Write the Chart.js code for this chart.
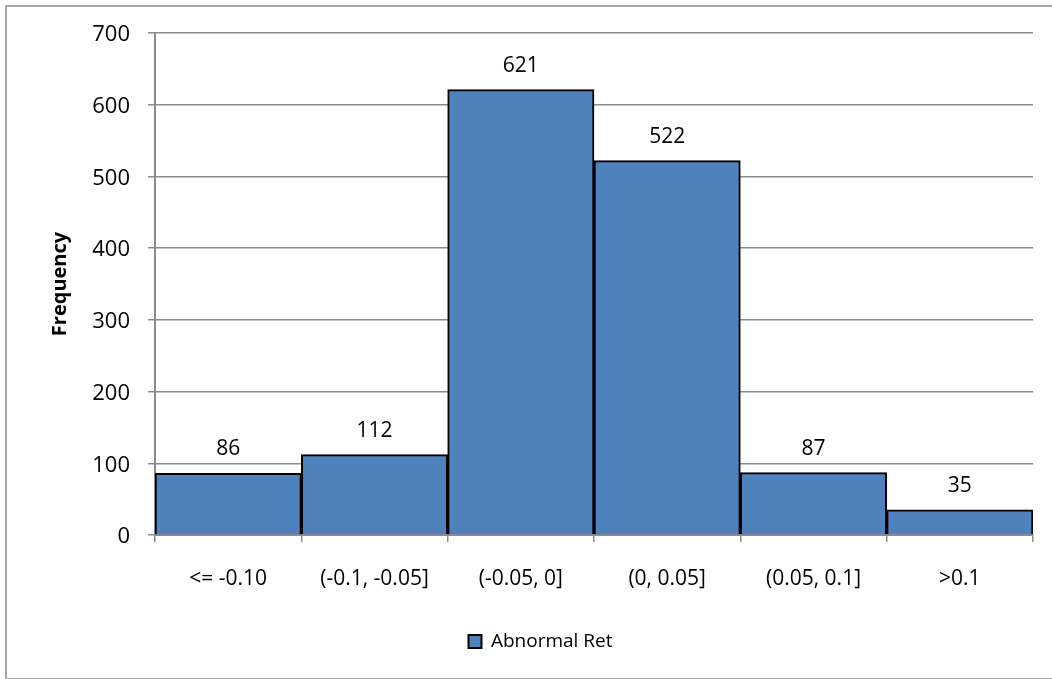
<!DOCTYPE html>
<html>
<head>
<meta charset="utf-8">
<script src="https://cdn.jsdelivr.net/npm/chart.js@4.4.1/dist/chart.umd.min.js"></script>
<style>
  html, body { margin: 0; padding: 0; background: #ffffff; }
  #wrap { position: relative; width: 1052px; height: 679px; overflow: hidden; }
  #frame { position: absolute; left: 5px; top: 5px; width: 1100px; height: 671px;
           border: 2px solid #a6a6a6; box-sizing: content-box; pointer-events: none; }
  canvas { position: absolute; left: 0; top: 0; }
</style>
</head>
<body>
<div id="wrap">
  <canvas id="chart" width="1052" height="679"></canvas>
  <div id="frame"></div>
</div>
<script>
// Return bins and how many observations fall in each
const categories = ['<= -0.10', '(-0.1, -0.05]', '(-0.05, 0]', '(0, 0.05]', '(0.05, 0.1]', '>0.1'];
const frequencies = [86, 112, 621, 522, 87, 35];
const seriesName = 'Abnormal Ret';
const yTicks = [0, 100, 200, 300, 400, 500, 600, 700];

const FONT = "'Open Sans', 'Noto Sans', sans-serif";
const GRID = '#8c8c8c';

// Writes each bar's count just above it
const valueLabels = {
  id: 'valueLabels',
  afterDatasetsDraw(chart) {
    const ctx = chart.ctx;
    const meta = chart.getDatasetMeta(0);
    const data = chart.data.datasets[0].data;
    ctx.save();
    ctx.font = '21px ' + FONT;
    ctx.fillStyle = '#000000';
    ctx.textAlign = 'center';
    ctx.textBaseline = 'alphabetic';
    meta.data.forEach((bar, i) => {
      ctx.fillText(String(data[i]), bar.x, bar.y - 18);
    });
    ctx.restore();
  }
};

new Chart(document.getElementById('chart'), {
  type: 'bar',
  data: {
    labels: categories,
    datasets: [{
      label: seriesName,
      data: frequencies,
      backgroundColor: '#4f81bd',
      borderColor: '#000000',
      borderWidth: 2,
      borderSkipped: 'bottom',
      categoryPercentage: 1.0,
      barPercentage: 1.0
    }]
  },
  options: {
    responsive: false,
    animation: false,
    devicePixelRatio: 1,
    layout: { padding: { left: 48, right: 19, top: 33, bottom: 18 } },
    plugins: {
      tooltip: { enabled: false },
      legend: {
        position: 'bottom',
        labels: {
          boxWidth: 13,
          boxHeight: 13,
          padding: 10,
          color: '#000000',
          font: { family: FONT, size: 19 }
        }
      }
    },
    scales: {
      x: {
        offset: true,
        grid: {
          offset: true,
          drawOnChartArea: false,
          drawTicks: true,
          tickLength: 7,
          color: GRID,
          lineWidth: 1.5
        },
        border: { display: true, color: GRID, width: 2 },
        ticks: {
          color: '#000000',
          padding: 24,
          maxRotation: 0,
          font: { family: FONT, size: 21 }
        },
        afterFit(scale) { scale.height = 87; }
      },
      y: {
        min: 0,
        max: 700,
        afterBuildTicks(scale) { scale.ticks = yTicks.map(v => ({ value: v })); },
        grid: {
          color: GRID,
          lineWidth: 1.5,
          drawTicks: true,
          tickLength: 7
        },
        border: { display: true, color: GRID, width: 2 },
        ticks: {
          color: '#000000',
          padding: 18,
          labelOffset: 2,
          font: { family: FONT, size: 22 }
        },
        title: {
          display: true,
          text: 'Frequency',
          color: '#000000',
          padding: 0,
          font: { family: FONT, size: 20, weight: 'bold' }
        },
        afterFit(scale) { scale.width = 107; }
      }
    }
  },
  plugins: [valueLabels]
});
</script>
</body>
</html>
